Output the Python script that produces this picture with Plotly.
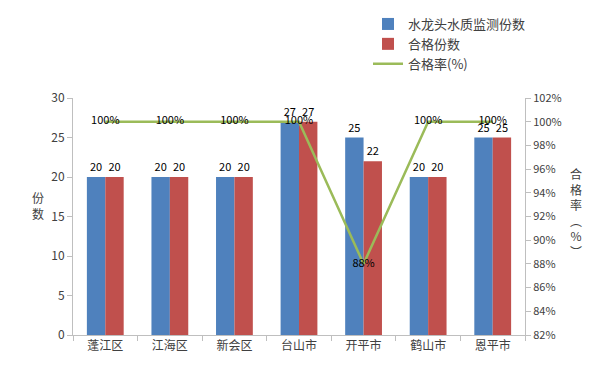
import plotly.graph_objects as go

categories = ["蓬江区", "江海区", "新会区", "台山市", "开平市", "鹤山市", "恩平市"]
monitored = [20, 20, 20, 27, 25, 20, 25]
qualified = [20, 20, 20, 27, 22, 20, 25]
rate = [100, 100, 100, 100, 88, 100, 100]

FONT = "Noto Sans CJK SC, Microsoft YaHei, sans-serif"
TXT = "#404040"

L, R, T, B = 73, 75, 98, 48
W, H = 600, 383
pw = W - L - R
ph = H - T - B


def px_x(x):
    return (x - L) / pw


def px_y(y):
    return (H - B - y) / ph


fig = go.Figure()
fig.add_trace(go.Bar(
    x=categories, y=monitored, name="水龙头水质监测份数",
    marker=dict(color="#4F81BD", line=dict(width=0)),
    text=[str(v) for v in monitored], textposition="outside",
    textfont=dict(size=11, color="#000000"), cliponaxis=False,
))
fig.add_trace(go.Bar(
    x=categories, y=qualified, name="合格份数",
    marker=dict(color="#C0504D", line=dict(width=0)),
    text=[str(v) for v in qualified], textposition="outside",
    textfont=dict(size=11, color="#000000"), cliponaxis=False,
))
fig.add_trace(go.Scatter(
    x=categories, y=rate, name="合格率(%)", yaxis="y2",
    mode="lines+text", line=dict(color="#9BBB59", width=2.5),
    text=[f"{v}%" for v in rate], textposition="middle center",
    textfont=dict(size=11, color="#000000"), cliponaxis=False,
))

fig.update_layout(
    width=W, height=H,
    margin=dict(l=L, r=R, t=T, b=B, autoexpand=False),
    paper_bgcolor="white", plot_bgcolor="white",
    font=dict(family=FONT, size=11, color=TXT),
    barmode="group", bargap=0.43, bargroupgap=0,
    showlegend=True,
    legend=dict(x=px_x(368), y=px_y(9), xanchor="left", yanchor="top",
                font=dict(size=13, color=TXT), traceorder="normal",
                itemwidth=30, tracegroupgap=0, bgcolor="rgba(0,0,0,0)"),
    xaxis=dict(showline=True, linecolor="#BFBFBF", linewidth=1,
               ticks="outside", tickcolor="#BFBFBF", ticklen=5,
               tickson="boundaries", showgrid=False,
               tickfont=dict(size=12, color=TXT)),
    yaxis=dict(range=[0, 30], dtick=5, showline=True, linecolor="#BFBFBF",
               ticks="outside", tickcolor="#BFBFBF", ticklen=5,
               showgrid=False, zeroline=False,
               tickfont=dict(size=12, color=TXT)),
    yaxis2=dict(range=[82, 102], dtick=2, ticksuffix="%", overlaying="y",
                side="right", showline=True, linecolor="#BFBFBF",
                ticks="outside", tickcolor="#BFBFBF", ticklen=5,
                showgrid=False, zeroline=False,
                tickfont=dict(size=11, color=TXT)),
    annotations=[
        dict(text="份<br>数", x=px_x(38), y=px_y(205), xref="paper", yref="paper",
             xanchor="center", yanchor="middle",
             showarrow=False, font=dict(size=12, color=TXT)),
        dict(text="合<br>格<br>率<br>︵<br>%<br>︶", x=px_x(576), y=px_y(212),
             xref="paper", yref="paper", xanchor="center", yanchor="middle",
             showarrow=False, font=dict(size=12, color=TXT)),
    ],
)

fig.write_html("out.html", config={"displayModeBar": False},
               post_script="document.body.style.margin='0';document.body.style.padding='0';")
